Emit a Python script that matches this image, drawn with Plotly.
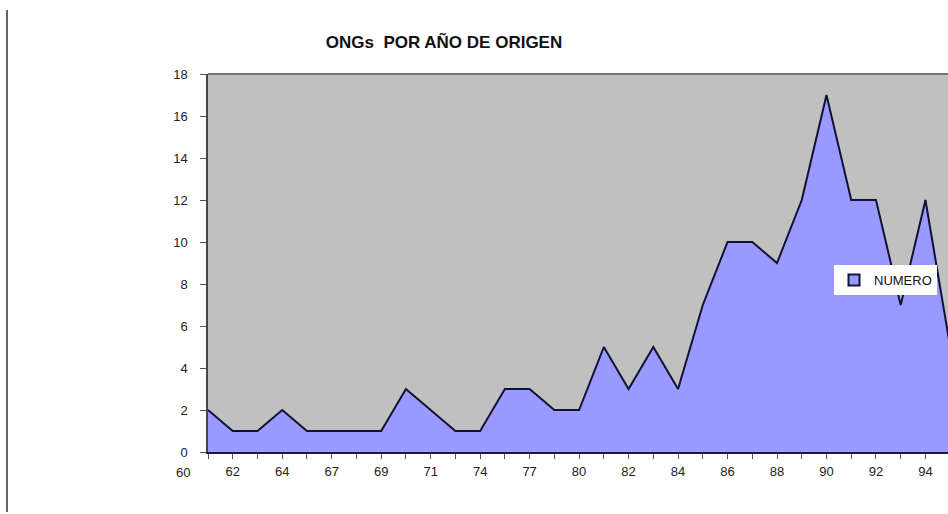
import plotly.graph_objects as go

# Data
years = ["61", "62", "63", "64", "65", "67", "68", "69", "70", "71", "72",
         "74", "75", "77", "78", "80", "81", "82", "83", "84", "85", "86",
         "87", "88", "89", "90", "91", "92", "93", "94", "95"]
numero = [2, 1, 1, 2, 1, 1, 1, 1, 3, 2, 1, 1, 3, 3, 2, 2, 5, 3, 5, 3, 7, 10,
          10, 9, 12, 17, 12, 12, 7, 12, 5]
shown_labels = ["60", "62", "64", "67", "69", "71", "74", "77", "80", "82",
                "84", "86", "88", "90", "92", "94"]
y_ticks = [0, 2, 4, 6, 8, 10, 12, 14, 16, 18]

W, H = 948, 514
L, R, T, B = 208, 0, 74, 62
pw, ph = W - L - R, H - T - B
STEP = 24.74  # px per category in the reference
FONT = "Liberation Sans, Arial, sans-serif"
FILL = "#9999FF"
EDGE = "#111133"

fig = go.Figure()
fig.add_trace(go.Scatter(
    x=years, y=numero, name="NUMERO", mode="lines",
    line=dict(color=EDGE, width=2),
    fill="tozeroy", fillcolor=FILL, showlegend=False,
))
# legend key only (filled box with dark outline, like the original)
fig.add_trace(go.Scatter(
    x=[None], y=[None], name="NUMERO", mode="markers",
    marker=dict(symbol="square", size=11, color=FILL,
                line=dict(color=EDGE, width=2)),
    showlegend=True,
))

ticktext = [y if y in shown_labels else "" for y in years]

fig.update_layout(
    width=W, height=H,
    margin=dict(l=L, r=R, t=T, b=B),
    paper_bgcolor="white",
    plot_bgcolor="#C0C0C0",
    font=dict(family=FONT, size=13, color="#222222"),
    title=dict(text="<b>ONGs  POR AÑO DE ORIGEN</b>", x=(444 - L) / pw,
               xref="paper", xanchor="center", y=1 - 42 / H,
               yref="container", yanchor="middle",
               font=dict(family=FONT, size=17, color="#111111")),
    xaxis=dict(type="category", categoryorder="array", categoryarray=years,
               range=[0, (W - L) / STEP], tickmode="array", tickvals=years,
               ticktext=ticktext, ticks="outside", ticklen=5, tickwidth=1,
               tickcolor="#555555", showgrid=False, zeroline=False,
               showline=True, linecolor="#1a1a3a", linewidth=2,
               ticklabelstandoff=1, tickfont=dict(size=13, color="#222222")),
    yaxis=dict(range=[0, 18], tickvals=y_ticks, ticks="outside", ticklen=6,
               tickwidth=1, tickcolor="#555555", showgrid=False,
               zeroline=False, showline=True, linecolor="#444444",
               linewidth=1.5, ticklabelstandoff=10,
               tickfont=dict(size=13, color="#222222")),
    legend=dict(x=(834 - L) / pw, y=(452 - 265) / ph, xanchor="left",
                yanchor="top", bgcolor="white", borderwidth=0,
                itemwidth=30,
                font=dict(size=13, color="#111111")),
    showlegend=True,
)

# first category label sits one slot left of the plot area
fig.add_annotation(x=-STEP / pw, y=0, xref="paper", yref="paper",
                   text=shown_labels[0], showarrow=False, xanchor="center",
                   yanchor="top", yshift=-11,
                   font=dict(family=FONT, size=13, color="#222222"))

# top border of the plot area
fig.add_shape(type="line", xref="paper", yref="paper", x0=0, x1=1, y0=1,
              y1=1, line=dict(color="#777777", width=2))
# page bracket on the left
bx = (7 - L) / pw
fig.add_shape(type="line", xref="paper", yref="paper", x0=bx, x1=bx,
              y0=(452 - 10) / ph, y1=(452 - 512) / ph,
              line=dict(color="#666666", width=2))

fig.write_html("out.html", config={"displayModeBar": False},
               post_script="document.body.style.margin='0';")
